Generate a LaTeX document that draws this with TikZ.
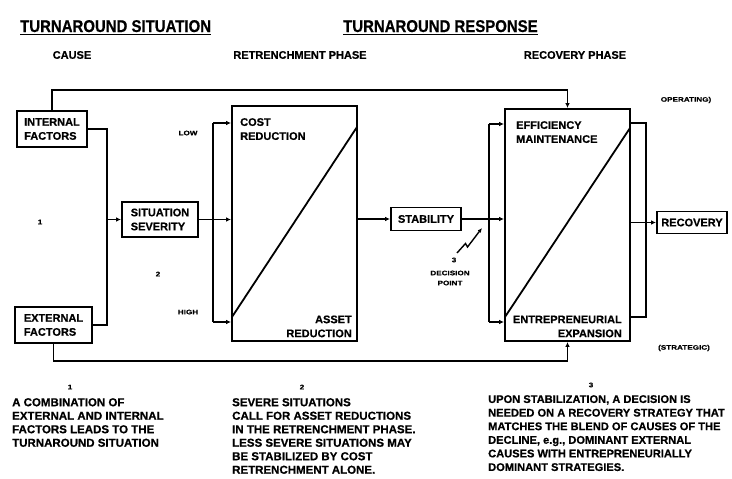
\documentclass[tikz,border=0pt]{standalone}
\usepackage{fontspec}
\setmainfont{Liberation Sans}[BoldFeatures={FakeBold=0.6}]
\newfontfamily\titlefont[FakeStretch=0.88,BoldFeatures={FakeBold=0.6}]{Liberation Sans}
\newfontfamily\widefont[FakeStretch=1.25,BoldFeatures={FakeBold=0.6}]{Liberation Sans}
\usetikzlibrary{arrows.meta}
\begin{document}
\begin{tikzpicture}[x=1pt,y=-1pt,
  ln/.style={line width=1.8pt},
  arr/.style={line width=1.8pt,-{Latex[length=5pt,width=4.5pt]}},
  box/.style={draw,line width=1.8pt,inner sep=0pt,align=left,font=\bfseries\fontsize{11}{14}\selectfont},
  big/.style={draw,line width=1.8pt,inner sep=0pt},
  txt/.style={inner sep=0pt,font=\bfseries\fontsize{11}{14}\selectfont},
  ttl/.style={inner sep=0pt,font=\titlefont\bfseries\fontsize{17}{20}\selectfont},
  sub/.style={inner sep=0pt,font=\bfseries\fontsize{11}{14}\selectfont},
  tiny/.style={inner sep=0pt,font=\widefont\bfseries\fontsize{6.5}{8}\selectfont},
  note/.style={inner sep=0pt,align=left,anchor=north west,font=\bfseries\fontsize{11.5}{13.5}\selectfont}]
\useasboundingbox (0,0) rectangle (732,479);

% titles
\node[ttl,anchor=base west] (t1) at (20,32) {TURNAROUND SITUATION};
\draw[line width=1.6pt] ([yshift=-2.4pt]t1.base west) -- ([yshift=-2.4pt]t1.base east);
\node[ttl,anchor=base west] (t2) at (343,32) {TURNAROUND RESPONSE};
\draw[line width=1.6pt] ([yshift=-2.4pt]t2.base west) -- ([yshift=-2.4pt]t2.base east);
\node[sub] (h1) at (72,55) {CAUSE};
\node[sub] (h2) at (300,55) {RETRENCHMENT PHASE};
\node[sub] (h3) at (575,55) {RECOVERY PHASE};

% boxes
\node[box,minimum width=70pt,minimum height=36pt] (int) at (52,129) {INTERNAL\\FACTORS};
\node[box,minimum width=77pt,minimum height=36pt] (ext) at (53.5,325) {EXTERNAL\\FACTORS};
\node[box,minimum width=76pt,minimum height=35pt] (sit) at (160,219.5) {SITUATION\\SEVERITY};
\node[big,minimum width=125pt,minimum height=235pt] (retr) at (294.5,223.5) {};
\node[box,minimum width=70pt,minimum height=23pt] (stab) at (426,219) {STABILITY};
\node[big,minimum width=125pt,minimum height=232pt] (rph) at (567.5,225) {};
\node[box,minimum width=70pt,minimum height=22pt] (recov) at (692,222.5) {RECOVERY};

% texts in big boxes
\node[txt,anchor=north west,align=left] (cost) at (240,118) {COST\\REDUCTION};
\node[txt,anchor=south east,align=right] (asset) at (352,337.5) {ASSET\\REDUCTION};
\node[txt,anchor=north west,align=left] (eff) at (516,121) {EFFICIENCY\\MAINTENANCE};
\node[txt,anchor=south east,align=right] (entr) at (622,337.5) {ENTREPRENEURIAL\\EXPANSION};

% diagonals
\draw[ln] (232,317) -- (357,127);
\draw[ln] (505,317) -- (630,128);

% left combiner
\coordinate (jx) at (107,219.5);
\draw[ln] (int.east) -| (jx) |- (ext.east);
\draw[arr] (jx) -- (sit.west);

% retrenchment bracket
\coordinate (b1t) at (213,123);
\coordinate (b1b) at (213,322);
\draw[arr] (b1t) -- (b1t -| retr.west);
\draw[ln] (b1t) -- (b1b);
\draw[arr] (b1b) -- (b1b -| retr.west);
\draw[arr] (sit.east) -- (sit.east -| retr.west);
\draw[arr] (retr.east |- stab.west) -- (stab.west);

% recovery bracket
\coordinate (b2t) at (489,124);
\coordinate (b2b) at (489,322);
\draw[arr] (b2t) -- (b2t -| rph.west);
\draw[ln] (b2t) -- (b2b);
\draw[arr] (b2b) -- (b2b -| rph.west);
\draw[arr] (stab.east) -- (stab.east -| rph.west);

% output bracket
\coordinate (b3t) at (646,123);
\coordinate (b3b) at (646,317);
\draw[ln] (b3t -| rph.east) -- (b3t) -- (b3b) -- (b3b -| rph.east);
\draw[arr] (rph.east |- recov.west) -- (recov.west);

% feedback lines
\draw[arr] (int.north) -- ++(0,-20) -| (rph.north);
\draw[arr] (ext.south) -- ++(0,17) -| (rph.south);

% decision point bolt
\draw[line width=1.4pt,-{Latex[length=4.5pt,width=4pt]}] (457,253) -- (465.5,243.5) -- (467.5,247) -- (482,228);

% small labels
\node[tiny] (low) at (188,133) {LOW};
\node[tiny] (high) at (188,312) {HIGH};
\node[tiny] (n1) at (40,222) {1};
\node[tiny] (n2) at (158,274) {2};
\node[tiny] (n3) at (454,260) {3};
\node[tiny] (dec) at (450,273) {DECISION};
\node[tiny] (pt) at (450,283) {POINT};
\node[tiny] (op) at (686,100) {OPERATING)};
\node[tiny] (st) at (684,348) {(STRATEGIC)};

% notes
\node[tiny] (m1) at (70,387) {1};
\node[tiny] (m2) at (302,387) {2};
\node[tiny] (m3) at (591,385) {3};
\node[note] (c1) at (12,398) {A COMBINATION OF\\EXTERNAL AND INTERNAL\\FACTORS LEADS TO THE\\TURNAROUND SITUATION};
\node[note] (c2) at (232,398) {SEVERE SITUATIONS\\CALL FOR ASSET REDUCTIONS\\IN THE RETRENCHMENT PHASE.\\LESS SEVERE SITUATIONS MAY\\BE STABILIZED BY COST\\RETRENCHMENT ALONE.};
\node[note,font=\bfseries\fontsize{11.1}{13.6}\selectfont] (c3) at (488,395) {UPON STABILIZATION, A DECISION IS\\NEEDED ON A RECOVERY STRATEGY THAT\\MATCHES THE BLEND OF CAUSES OF THE\\DECLINE, e.g., DOMINANT EXTERNAL\\CAUSES WITH ENTREPRENEURIALLY\\DOMINANT STRATEGIES.};
\end{tikzpicture}
\end{document}
